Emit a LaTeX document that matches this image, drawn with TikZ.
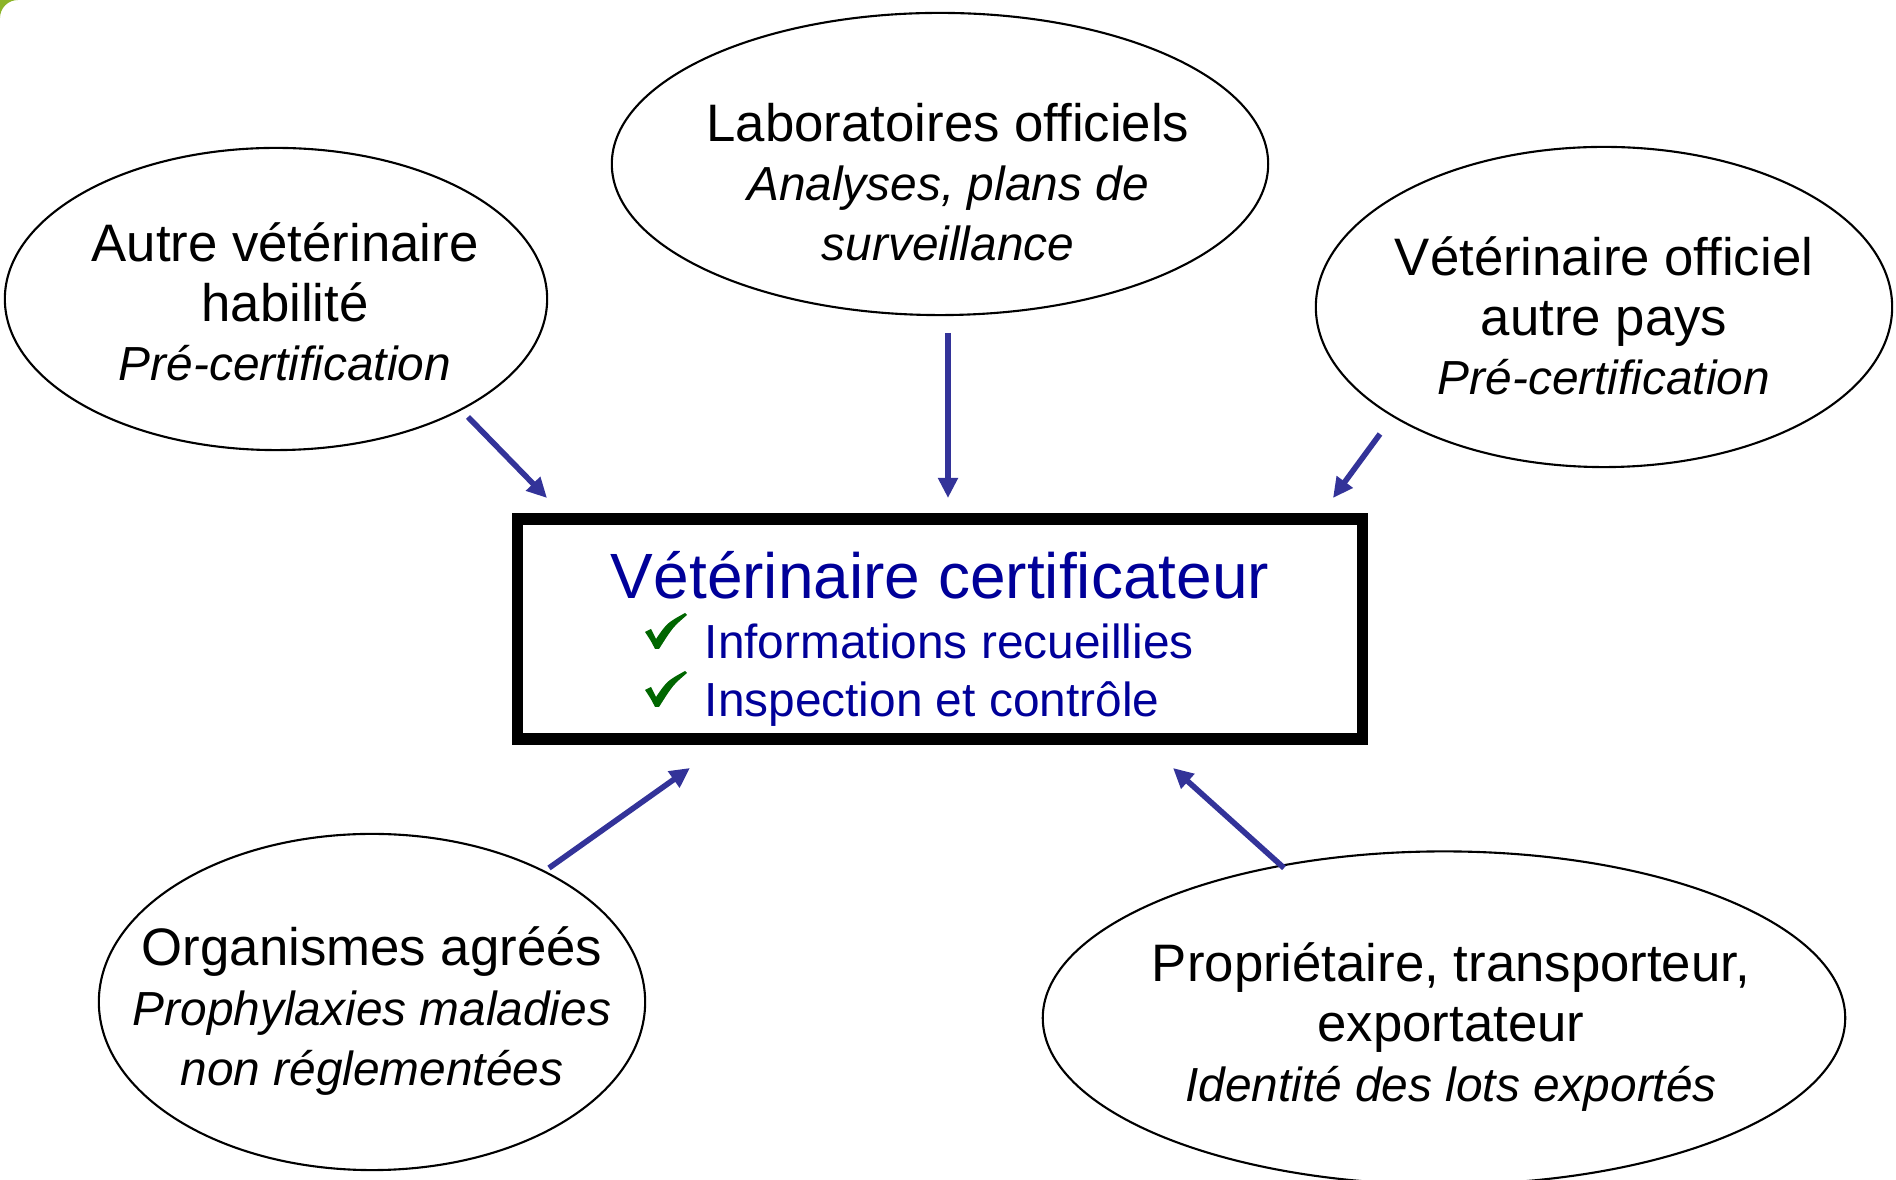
\documentclass[tikz,border=0pt]{standalone}
\usepackage{fontspec}
\setmainfont{Liberation Sans}
\usetikzlibrary{arrows.meta,shapes.geometric}
\definecolor{titleblue}{RGB}{0,0,153}
\definecolor{arrowblue}{RGB}{51,51,153}
\definecolor{checkgreen}{RGB}{0,102,0}
\definecolor{slidegreen}{RGB}{140,180,40}
\newcommand\itnote[1]{{\fontsize{13.6}{17}\selectfont\itshape #1}}

\begin{document}
\begin{tikzpicture}[
  x=0.01cm, y=-0.01cm,
  bubble/.style={draw, ellipse, line width=0.6pt, inner sep=0pt},
  txt/.style={align=center, inner sep=0pt, font=\fontsize{15}{17}\selectfont},
  item/.style={anchor=base west, inner sep=0pt, text=titleblue, font=\fontsize{13.6}{16}\selectfont},
  flow/.style={-{Triangle[length=5.7pt,width=5.4pt]}, line width=1.6pt, draw=arrowblue},
  tickmark/.pic={
    \fill[checkgreen] (0,19) .. controls (3,17) .. (6,16) .. controls (8,20) .. (11,26)
      .. controls (22,10) .. (40,0) -- (42,2) .. controls (28,14) .. (14,36) -- (10,36)
      .. controls (6,28) .. (0,19) -- cycle;}
]
\useasboundingbox (0,0) rectangle (1896,1180);
% slide corner
\fill[slidegreen] (0,0) -- (18,0) .. controls (8,0) and (0,8) .. (0,18) -- cycle;

% central box
\node[draw, line width=3.2pt, minimum width=8.45cm, minimum height=2.2cm, inner sep=0pt] (cert) at (940,629) {};
\node[anchor=base, inner sep=0pt, text=titleblue, font=\fontsize{18.2}{20}\selectfont] (certtitle) at (940,599) {Vétérinaire certificateur};
\pic (chk1) at (645,613) {tickmark};
\node[item] (info) at (704,659) {Informations recueillies};
\pic (chk2) at (645,671) {tickmark};
\node[item] (insp) at (704,717) {Inspection et contrôle};

% surrounding ellipses
\node[bubble, minimum width=5.42cm, minimum height=3.02cm] (vetA) at (276,299) {};
\node[txt] (vetAtxt) at (285,302) {Autre vétérinaire\\habilité\\\itnote{Pré-certification}};

\node[bubble, minimum width=6.56cm, minimum height=3.02cm] (lab) at (940,164) {};
\node[txt] (labtxt) at (948,182) {Laboratoires officiels\\\itnote{Analyses, plans de}\\\itnote{surveillance}};

\node[bubble, minimum width=5.76cm, minimum height=3.2cm] (vetO) at (1604,307) {};
\node[txt] (vetOtxt) at (1604,316) {Vétérinaire officiel\\autre pays\\\itnote{Pré-certification}};

\node[bubble, minimum width=5.46cm, minimum height=3.36cm] (org) at (372,1002) {};
\node[txt] (orgtxt) at (372,1011) {Organismes agréés\\\itnote{Prophylaxies maladies}\\\itnote{non réglementées}};

\node[bubble, minimum width=8.02cm, minimum height=3.33cm] (prop) at (1444,1018) {};
\node[txt] (proptxt) at (1451,1027) {Propriétaire, transporteur,\\exportateur\\\itnote{Identité des lots exportés}};

% arrow ends
\coordinate (vetAs) at (468,417);  \coordinate (vetAt) at (547,498);
\coordinate (labs)  at (948,333);  \coordinate (labt)  at (948,498);
\coordinate (vetOs) at (1380,434); \coordinate (vetOt) at (1333,498);
\coordinate (orgs)  at (549,868);  \coordinate (orgt)  at (690,768);
\coordinate (props) at (1284,868); \coordinate (propt) at (1173,768);

\foreach \a/\b in {vetAs/vetAt,labs/labt,vetOs/vetOt,orgs/orgt,props/propt}
  \draw[flow] (\a) -- (\b);

\end{tikzpicture}
\end{document}
